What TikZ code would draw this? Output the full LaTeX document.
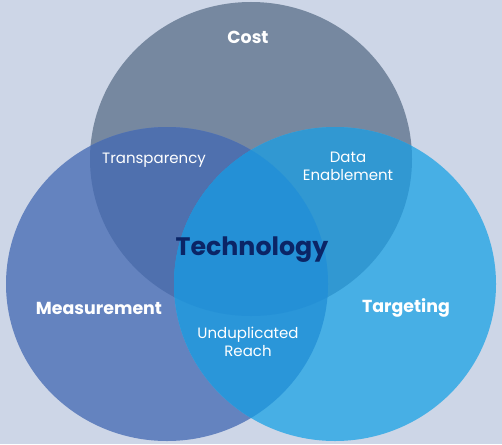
\documentclass[tikz,border=0pt]{standalone}
\usepackage{fontspec}
\setmainfont{Poppins}
\usepackage{xcolor}
\usetikzlibrary{positioning}
\definecolor{backpanel}{HTML}{CDD6E7}
\definecolor{costfill}{HTML}{7688A0}
\definecolor{measfill}{HTML}{6483BF}
\definecolor{targfill}{HTML}{47AFE5}
\definecolor{cmfill}{HTML}{4F70AE}
\definecolor{ctfill}{HTML}{3198D2}
\definecolor{mtfill}{HTML}{2A96D9}
\definecolor{allfill}{HTML}{2490D6}
\definecolor{navy}{HTML}{0B2566}
\newcommand\costset{(251,159) ellipse [x radius=161,y radius=157]}
\newcommand\measset{(167,284) ellipse [x radius=161,y radius=157]}
\newcommand\targset{(335,284) ellipse [x radius=161,y radius=157]}

\begin{document}
\begin{tikzpicture}[x=1pt,y=-1pt,every node/.style={text=white,align=center,inner sep=0pt}]
  \tikzset{
    setlabel/.style={font=\fontsize{17.4}{20}\selectfont\bfseries},
    overlap/.style={font=\fontsize{15}{18}\selectfont}
  }
  \fill[backpanel] (0,0) rectangle (502,444);
  % the three sets
  \fill[costfill] \costset;
  \fill[measfill] \measset;
  \fill[targfill] \targset;
  % pairwise overlaps
  \begin{scope} \clip \costset; \fill[cmfill] \measset; \end{scope}
  \begin{scope} \clip \costset; \fill[ctfill] \targset; \end{scope}
  \begin{scope} \clip \measset; \fill[mtfill] \targset; \end{scope}
  % centre
  \begin{scope} \clip \costset; \clip \measset; \fill[allfill] \targset; \end{scope}

  \node[setlabel] (cost) at (248,37) {Cost};
  \node[setlabel] (meas) at (99,308) {Measurement};
  \node[setlabel] (targ) at (406,308) {Targeting};
  \node[overlap] (transp) at (154,160) {Transparency};
  \node[overlap] (dataen) at (348,166) {Data\\Enablement};
  \node[overlap] (undup) at (248,342) {Unduplicated\\Reach};
  \node[font=\fontsize{25.3}{28}\selectfont\bfseries,text=navy] (tech) at (252,250) {Technology};
\end{tikzpicture}
\end{document}
